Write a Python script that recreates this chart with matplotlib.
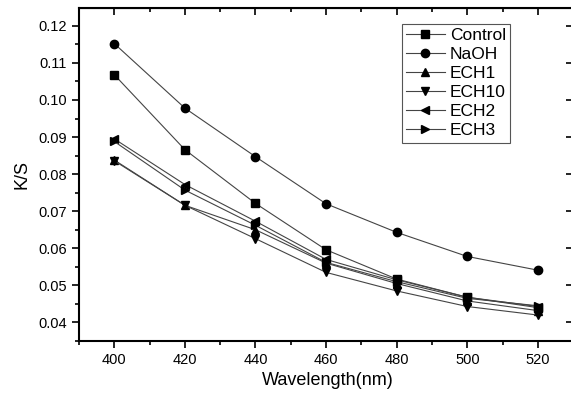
import matplotlib
matplotlib.use("Agg")
import matplotlib.pyplot as plt
from matplotlib.ticker import MultipleLocator

plt.rcParams['font.family'] = ['Liberation Sans', 'DejaVu Sans']

wavelength = [400, 420, 440, 460, 480, 500, 520]
control = [0.1068, 0.0866, 0.0721, 0.0596, 0.0517, 0.0468, 0.0440]
naoh = [0.1152, 0.0978, 0.0847, 0.0720, 0.0643, 0.0578, 0.0541]
ech1 = [0.0838, 0.0716, 0.0650, 0.0560, 0.0505, 0.0458, 0.0432]
ech10 = [0.0836, 0.0716, 0.0626, 0.0535, 0.0485, 0.0443, 0.0420]
ech2 = [0.0895, 0.0772, 0.0673, 0.0570, 0.0515, 0.0468, 0.0443]
ech3 = [0.0888, 0.0757, 0.0662, 0.0562, 0.0510, 0.0465, 0.0445]

series = [
    ("Control", control, "s"),
    ("NaOH", naoh, "o"),
    ("ECH1", ech1, "^"),
    ("ECH10", ech10, "v"),
    ("ECH2", ech2, "<"),
    ("ECH3", ech3, ">"),
]

fig = plt.figure(figsize=(5.71, 3.94), dpi=100)
ax = fig.add_axes([79 / 571, 53 / 394, 497 / 571, 333 / 394])

for name, vals, mk in series:
    ax.plot(wavelength, vals, color="#444444", linewidth=0.8, marker=mk,
            markersize=6, markerfacecolor="black", markeredgecolor="black",
            label=name)

ax.set_xlim(390, 530.8)
ax.set_ylim(0.035, 0.1248)
ax.xaxis.set_major_locator(MultipleLocator(20))
ax.xaxis.set_minor_locator(MultipleLocator(10))
ax.yaxis.set_major_locator(MultipleLocator(0.01))
ax.yaxis.set_minor_locator(MultipleLocator(0.005))
ax.yaxis.set_major_formatter(matplotlib.ticker.FormatStrFormatter('%.2f'))

ax.tick_params(which="both", direction="out", labelsize=10.5, width=1.2,
               top=False, right=False)
ax.tick_params(which="major", length=5)
ax.tick_params(which="minor", length=3)

for s in ax.spines.values():
    s.set_linewidth(1.5)
# right edge of the frame falls outside the picture
ax.spines["right"].set_visible(False)

# top and right ticks point inward (Origin style)
sec_x = ax.secondary_xaxis("top")
sec_x.xaxis.set_major_locator(MultipleLocator(20))
sec_x.xaxis.set_minor_locator(MultipleLocator(10))
sec_x.tick_params(which="both", direction="in", labeltop=False, width=1.2)
sec_x.tick_params(which="major", length=5)
sec_x.tick_params(which="minor", length=3)
sec_y = ax.secondary_yaxis("right")
sec_y.yaxis.set_major_locator(MultipleLocator(0.01))
sec_y.yaxis.set_minor_locator(MultipleLocator(0.005))
sec_y.tick_params(which="both", direction="in", labelright=False, width=1.2)
sec_y.tick_params(which="major", length=7)
sec_y.tick_params(which="minor", length=3)
sec_y.spines["right"].set_visible(False)

ax.set_xlabel("Wavelength(nm)", fontsize=13, labelpad=4)
ax.set_ylabel("K/S", fontsize=13, labelpad=6)

leg = ax.legend(loc="upper left", bbox_to_anchor=(402 / 571, 1 - 24 / 394),
                bbox_transform=fig.transFigure, borderaxespad=0,
                fontsize=12.5, fancybox=False, framealpha=1, edgecolor="#555555",
                handlelength=2.2, handletextpad=0.3, labelspacing=0.22,
                borderpad=0.25)
leg.get_frame().set_linewidth(0.8)

fig.savefig("out.png", dpi=100)
